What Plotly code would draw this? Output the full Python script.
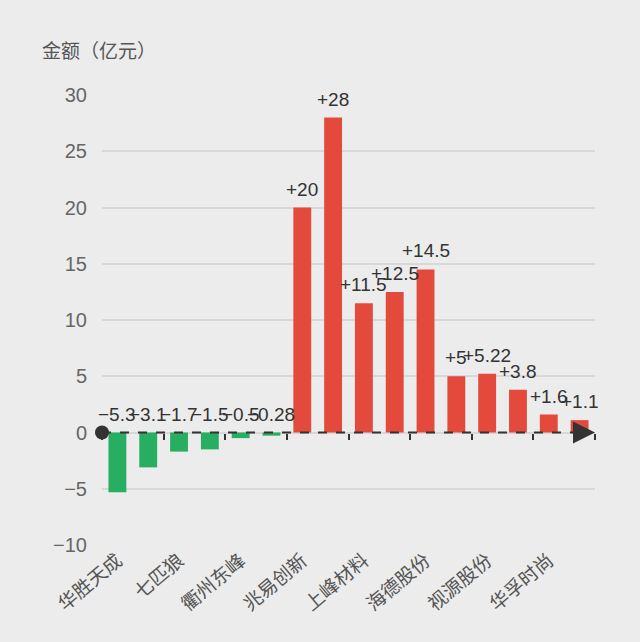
import plotly.graph_objects as go

# 16 stocks, only every other name is printed under the axis
labels = ["华胜天成", "七匹狼", "衢州东峰", "兆易创新", "上峰材料", "海德股份", "视源股份", "华孚时尚"]
label_pos = [0, 2, 4, 6, 8, 10, 12, 14]
values = [-5.3, -3.1, -1.7, -1.5, -0.5, -0.28, 20, 28, 11.5, 12.5, 14.5, 5, 5.22, 3.8, 1.6, 1.1]
yticks = [-10, -5, 0, 5, 10, 15, 20, 25, 30]

xs = list(range(len(values)))
colors = ["#e34a3c" if v > 0 else "#27ae60" for v in values]
bounds = [i - 0.5 for i in range(0, len(values) + 1, 2)]

FONT = "Liberation Sans, Noto Sans CJK SC, sans-serif"

fig = go.Figure()
fig.add_trace(go.Bar(x=xs, y=values, marker=dict(color=colors, line=dict(width=0)),
                     hoverinfo="skip"))
# dummy trace so the tick-mark axis is drawn
fig.add_trace(go.Scatter(x=[-0.5], y=[0], xaxis="x2", mode="markers",
                         marker=dict(opacity=0), hoverinfo="skip"))
# origin dot
fig.add_trace(go.Scatter(x=[-0.5], y=[0], mode="markers", cliponaxis=False,
                         marker=dict(size=14, color="#333333"), hoverinfo="skip"))

def fmt(v):
    s = f"{v:+g}"
    return s.replace("-", "\u2212")

for x, v in zip(xs, values):
    fig.add_annotation(x=x, y=max(v, 0), text=fmt(v), showarrow=False,
                       yanchor="bottom", yshift=6,
                       font=dict(size=19, color="#333333"))

# dashed zero axis with arrow
fig.add_shape(type="line", x0=-0.5, x1=15.4, y0=0, y1=0, layer="above",
              line=dict(color="#333333", width=2, dash="dash"))
fig.add_annotation(x=15.5, y=0, ax=15.0, ay=0, axref="x", ayref="y",
                   showarrow=True, arrowhead=2, arrowsize=2.2, arrowwidth=2,
                   arrowcolor="#333333", text="")

fig.add_annotation(x=-0.126, y=1.096, xref="paper", yref="paper", text="金额（亿元）",
                   showarrow=False, xanchor="left", yanchor="middle",
                   font=dict(size=19, color="#555555"))

fig.update_layout(
    width=640, height=642,
    paper_bgcolor="#ececec", plot_bgcolor="#ececec",
    margin=dict(l=102, r=45, t=95, b=97),
    showlegend=False,
    bargap=0.42,
    font=dict(family=FONT),
    xaxis=dict(range=[-0.5, 15.5], tickmode="array", tickvals=label_pos, ticktext=labels,
               tickangle=-40, showgrid=False, zeroline=False, showline=False, ticks="",
               tickfont=dict(size=19, color="#555555")),
    xaxis2=dict(range=[-0.5, 15.5], overlaying="x", anchor="free", position=0.25,
                side="bottom", tickmode="array", tickvals=bounds, ticks="outside",
                ticklen=6, tickwidth=1.5, tickcolor="#333333", showticklabels=False,
                showgrid=False, zeroline=False, showline=False),
    yaxis=dict(range=[-10, 30], tickmode="array", tickvals=yticks, showgrid=True,
               gridcolor="#d8d8d8", gridwidth=1.5, zeroline=False, showline=False,
               ticks="", ticklabelstandoff=14, tickfont=dict(size=20, color="#666666")),
)

fig.write_html("out.html", config={"displayModeBar": False},
               post_script="document.body.style.margin='0';document.body.style.background='#ececec';")
